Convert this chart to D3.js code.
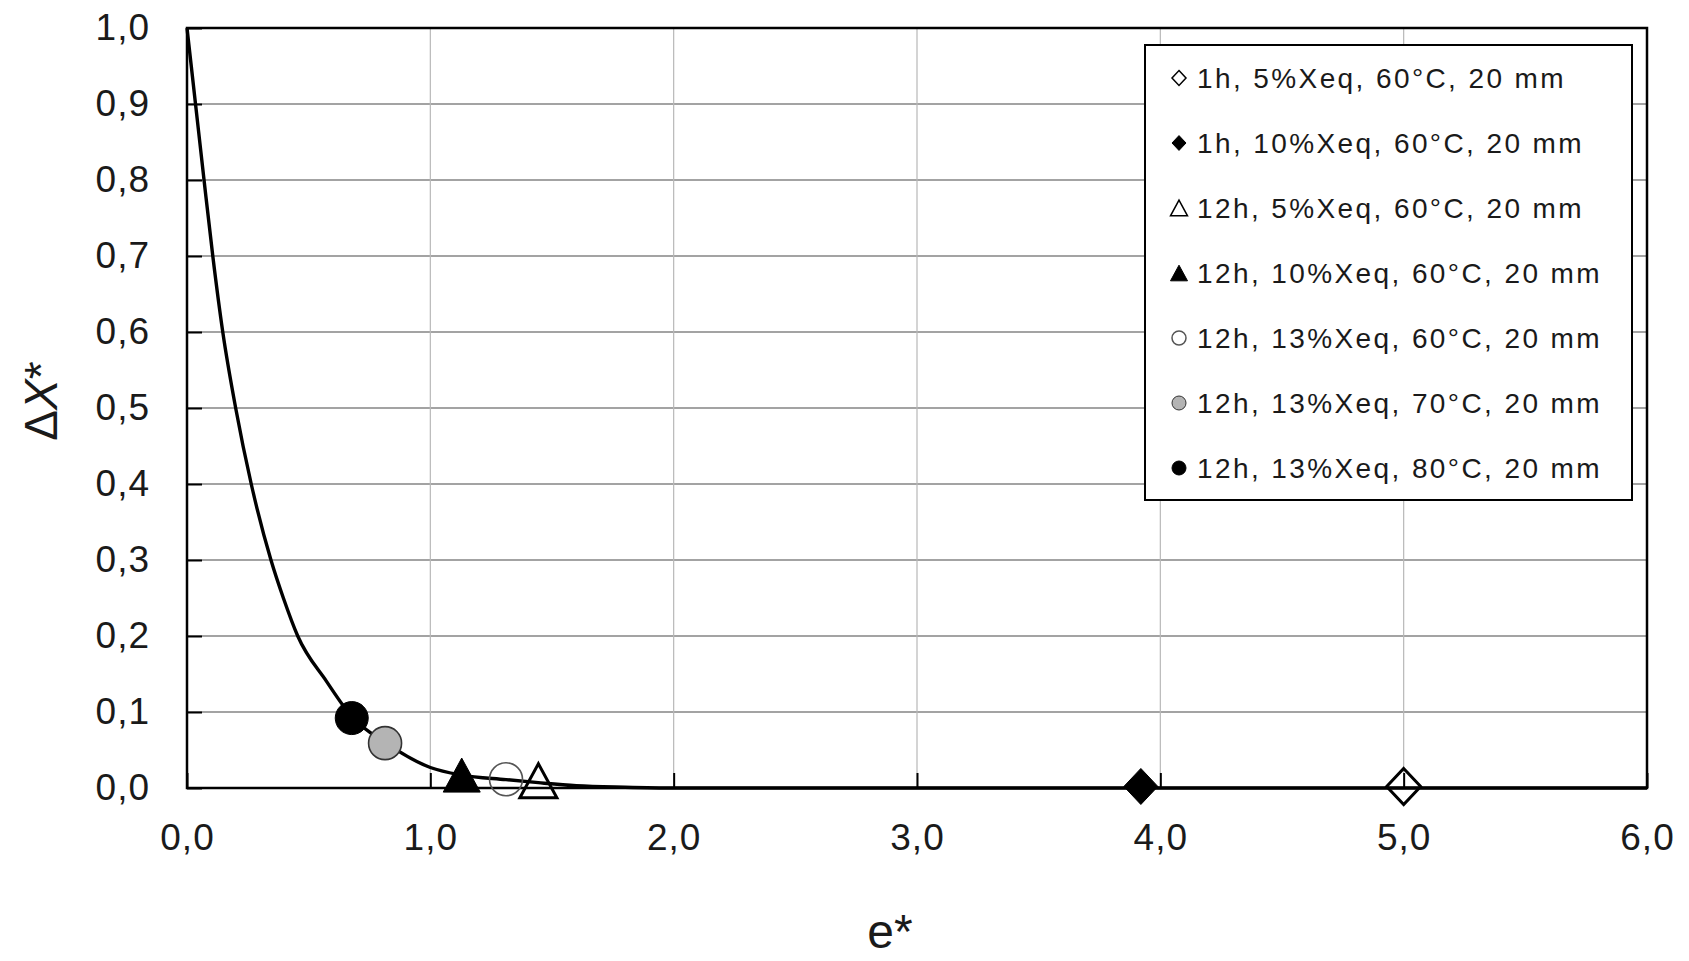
<!DOCTYPE html>
<html>
<head>
<meta charset="utf-8">
<script src="https://cdn.jsdelivr.net/npm/d3@7"></script>
<style>
  html, body { margin: 0; padding: 0; background: #fff; }
  svg { display: block; }
  text { font-family: "Liberation Sans", Arial, sans-serif; fill: #1a1a1a; }
</style>
</head>
<body>
<svg id="chart" width="1689" height="961"></svg>
<script>
// Fitted curve of dimensionless moisture difference vs. dimensionless thickness
const curveE = [0, 0.035, 0.07, 0.106, 0.147, 0.2, 0.264, 0.345, 0.396, 0.455, 0.574, 0.677, 0.814, 1.0, 1.129, 1.311, 1.444, 1.6, 1.8, 2.0, 3.0, 4.0, 5.0, 6.0];
const curveY = [1.0, 0.9, 0.8, 0.7, 0.6, 0.5, 0.4, 0.3, 0.25, 0.2, 0.14, 0.094, 0.06, 0.027, 0.017, 0.011, 0.007, 0.003, 0.001, 0, 0, 0, 0, 0];

// Experimental points, one per condition
const seriesLabels = [
  "1h, 5%Xeq, 60°C, 20 mm",
  "1h, 10%Xeq, 60°C, 20 mm",
  "12h, 5%Xeq, 60°C, 20 mm",
  "12h, 10%Xeq, 60°C, 20 mm",
  "12h, 13%Xeq, 60°C, 20 mm",
  "12h, 13%Xeq, 70°C, 20 mm",
  "12h, 13%Xeq, 80°C, 20 mm"
];
const pointE = [5.0, 3.92, 1.444, 1.129, 1.311, 0.814, 0.677];
const pointY = [0.002, 0.002, 0.0095, 0.017, 0.0115, 0.059, 0.092];
const markerShapes = ["diamond", "diamond", "triangle", "triangle", "circle", "circle", "circle"];
const markerFills = ["none", "#000", "none", "#000", "none", "#b4b4b4", "#000"];
const markerStrokes = ["#000", "#000", "#000", "#000", "#555", "#333", "#000"];
const markerStrokeW = [3, 1, 3, 1, 1.6, 1.6, 1];

const xTicks = [0, 1, 2, 3, 4, 5, 6];
const yTicks = [0, 0.1, 0.2, 0.3, 0.4, 0.5, 0.6, 0.7, 0.8, 0.9, 1.0];

const svg = d3.select("#chart");
const margin = { left: 187, top: 28, right: 42, bottom: 173 };
const W = 1689 - margin.left - margin.right;
const H = 961 - margin.top - margin.bottom;

const x = d3.scaleLinear().domain([0, 6]).range([0, W]);
const y = d3.scaleLinear().domain([0, 1]).range([H, 0]);

const g = svg.append("g").attr("transform", `translate(${margin.left},${margin.top})`);

// Symbol types centred on their bounding box; size = bbox width squared
const diamondType = {
  draw(ctx, size) {
    const r = Math.sqrt(size) / 2, h = r * 1.06;
    ctx.moveTo(0, -h); ctx.lineTo(r, 0); ctx.lineTo(0, h); ctx.lineTo(-r, 0); ctx.closePath();
  }
};
const triangleType = {
  draw(ctx, size) {
    const w = Math.sqrt(size) / 2, h = w * 0.92;
    ctx.moveTo(0, -h); ctx.lineTo(w, h); ctx.lineTo(-w, h); ctx.closePath();
  }
};
const circleType = {
  draw(ctx, size) {
    const r = Math.sqrt(size) / 2;
    ctx.moveTo(r, 0); ctx.arc(0, 0, r, 0, 2 * Math.PI);
  }
};
const shapeTypes = { diamond: diamondType, triangle: triangleType, circle: circleType };
const plotSizes = { diamond: 34, triangle: 37, circle: 33 };
const legendSizes = { diamond: 14, triangle: 17, circle: 14 };

// Gridlines
g.append("g").selectAll("line.h")
  .data(yTicks.filter(v => v > 0 && v < 1))
  .join("line")
  .attr("x1", 0).attr("x2", W)
  .attr("y1", d => y(d)).attr("y2", d => y(d))
  .attr("stroke", "#848484").attr("stroke-width", 1.5);
g.append("g").selectAll("line.v")
  .data(xTicks.filter(v => v > 0 && v < 6))
  .join("line")
  .attr("y1", 0).attr("y2", H)
  .attr("x1", d => x(d)).attr("x2", d => x(d))
  .attr("stroke", "#b8b8b8").attr("stroke-width", 1.2);

const fmt = v => d3.format(".1f")(v).replace(".", ",");

// Axes with inward ticks
const yAxis = g.append("g")
  .call(d3.axisLeft(y).tickValues(yTicks).tickFormat(fmt).tickSize(-15).tickPadding(37));
const xAxis = g.append("g").attr("transform", `translate(0,${H})`)
  .call(d3.axisBottom(x).tickValues(xTicks).tickFormat(fmt).tickSize(-15).tickPadding(36));
[yAxis, xAxis].forEach(a => {
  a.select(".domain").remove();
  a.selectAll(".tick line").attr("stroke", "#000").attr("stroke-width", 2);
  a.selectAll(".tick text").attr("font-size", 37).attr("fill", "#1a1a1a")
    .style("font-family", "'Liberation Sans', Arial, sans-serif").attr("letter-spacing", 1);
});

// Frame
g.append("rect").attr("x", 0).attr("y", 0).attr("width", W).attr("height", H)
  .attr("fill", "none").attr("stroke", "#000").attr("stroke-width", 2.5);

// Fitted curve
const line = d3.line().x((d, i) => x(curveE[i])).y((d, i) => y(curveY[i])).curve(d3.curveMonotoneX);
g.append("path").datum(curveE).attr("d", line)
  .attr("fill", "none").attr("stroke", "#000").attr("stroke-width", 3.4).attr("stroke-linejoin", "round");

// Experimental markers
g.append("g").selectAll("path")
  .data(pointE.map((e, i) => i))
  .join("path")
  .attr("transform", i => `translate(${x(pointE[i])},${y(pointY[i])})`)
  .attr("d", i => d3.symbol().type(shapeTypes[markerShapes[i]]).size(plotSizes[markerShapes[i]] ** 2)())
  .attr("fill", i => markerFills[i])
  .attr("stroke", i => markerStrokes[i])
  .attr("stroke-width", i => markerStrokeW[i]);

// Legend
const lg = svg.append("g").attr("transform", "translate(1145,45)");
lg.append("rect").attr("width", 487).attr("height", 455)
  .attr("fill", "#fff").attr("stroke", "#000").attr("stroke-width", 2);
const rows = lg.selectAll("g.row").data(seriesLabels.map((s, i) => i)).join("g")
  .attr("transform", i => `translate(34,${33 + i * 65})`);
rows.append("path")
  .attr("d", i => d3.symbol().type(shapeTypes[markerShapes[i]]).size(legendSizes[markerShapes[i]] ** 2)())
  .attr("fill", i => markerFills[i])
  .attr("stroke", i => markerStrokes[i])
  .attr("stroke-width", i => markerFills[i] === "none" ? 1.5 : 1);
rows.append("text")
  .attr("x", 18).attr("y", 10)
  .attr("font-size", 28).attr("letter-spacing", 2.4)
  .text(i => seriesLabels[i]);

// Axis titles
svg.append("text")
  .attr("x", 890).attr("y", 948)
  .attr("text-anchor", "middle").attr("font-size", 48)
  .text("e*");
const yt = svg.append("text")
  .attr("transform", "translate(57,401) rotate(-90)")
  .attr("text-anchor", "middle").attr("font-size", 46);
yt.append("tspan").text("Δ");
yt.append("tspan").attr("font-style", "italic").text("X");
yt.append("tspan").text("*");
</script>
</body>
</html>
